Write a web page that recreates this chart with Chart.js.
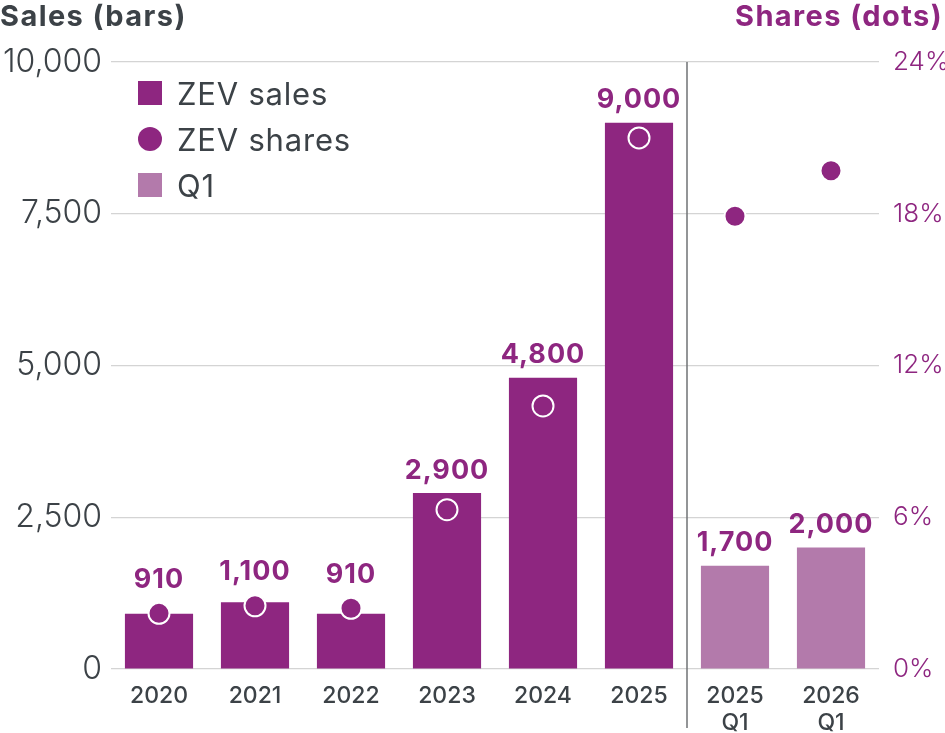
<!DOCTYPE html>
<html>
<head>
<meta charset="utf-8">
<script src="https://cdn.jsdelivr.net/npm/chart.js@4"></script>
<style>
  html, body { margin: 0; padding: 0; background: #fff; }
  #wrap { position: relative; width: 945px; height: 733px; font-family: "Inter", sans-serif; }
  .title { position: absolute; top: -1px; font-size: 29px; font-weight: 700; line-height: 34px; letter-spacing: 1.4px; }
  #t-left { left: 0; color: #3c4247; }
  #t-right { right: 2px; color: #8e2680; }
  #legend { position: absolute; left: 138px; top: 70px; }
  .item { display: flex; align-items: center; height: 46px; font-size: 31px; color: #3c4247; font-weight: 400; letter-spacing: 0.8px; }
  .mark { width: 24px; height: 24px; margin-right: 15px; }
</style>
</head>
<body>
<div id="wrap">
  <canvas id="chart" width="945" height="733"></canvas>
  <div class="title" id="t-left">Sales (bars)</div>
  <div class="title" id="t-right">Shares (dots)</div>
  <div id="legend"></div>
</div>
<script>
// ---- data ----
const labels = ["2020", "2021", "2022", "2023", "2024", "2025", ["2025", "Q1"], ["2026", "Q1"]];
const sales = [910, 1100, 910, 2900, 4800, 9000, 1700, 2000];
const shares = [2.2, 2.5, 2.4, 6.3, 10.4, 21.0, 17.9, 19.7];
const isQ1 = [false, false, false, false, false, false, true, true];
const salesTicks = [0, 2500, 5000, 7500, 10000];
const shareTicks = [0, 6, 12, 18, 24];

const PURPLE = "#8e2680";
const LIGHT = "#b37aab";
const GREY_TEXT = "#3c4247";
const FONT = "Inter, sans-serif";

// html legend
const legendItems = [
  { label: "ZEV sales", color: PURPLE, round: false },
  { label: "ZEV shares", color: PURPLE, round: true },
  { label: "Q1", color: LIGHT, round: false },
];
document.getElementById("legend").innerHTML = legendItems
  .map(
    (it) => `
    <div class="item">
      <span class="mark" style="background:${it.color};border-radius:${it.round ? "50%" : "0"}"></span>${it.label}
    </div>`
  )
  .join("");

// value labels above bars (lifted over a dot when the dot sits at the bar top)
const valueLabels = {
  id: "valueLabels",
  afterDatasetsDraw(chart) {
    const ctx = chart.ctx;
    const bars = chart.getDatasetMeta(1).data;
    const dots = chart.getDatasetMeta(0).data;
    ctx.save();
    ctx.font = `700 27px ${FONT}`;
    ctx.letterSpacing = "1px";
    ctx.fillStyle = PURPLE;
    ctx.textAlign = "center";
    ctx.textBaseline = "bottom";
    bars.forEach((bar, i) => {
      const nearTop = Math.abs(dots[i].y - bar.y) < 20;
      const top = nearTop ? Math.min(bar.y, dots[i].y - 11) : bar.y;
      ctx.fillText(sales[i].toLocaleString("en-US"), bar.x, top - 9);
    });
    ctx.restore();
  },
};

// vertical divider between annual and Q1 data
const divider = {
  id: "divider",
  afterDraw(chart) {
    const x = chart.scales.x;
    const px = (x.getPixelForValue(5) + x.getPixelForValue(6)) / 2;
    const ctx = chart.ctx;
    ctx.save();
    ctx.strokeStyle = "#6f7275";
    ctx.lineWidth = 1.5;
    ctx.beginPath();
    ctx.moveTo(px, chart.chartArea.top);
    ctx.lineTo(px, 728);
    ctx.stroke();
    ctx.restore();
  },
};

new Chart(document.getElementById("chart"), {
  data: {
    labels,
    datasets: [
      {
        type: "line",
        label: "ZEV shares",
        data: shares,
        yAxisID: "y2",
        showLine: false,
        pointRadius: 10.5,
        pointHoverRadius: 10.5,
        pointBackgroundColor: PURPLE,
        pointBorderColor: "#ffffff",
        pointBorderWidth: 2,
        order: 0,
      },
      {
        type: "bar",
        label: "ZEV sales",
        data: sales,
        yAxisID: "y",
        backgroundColor: isQ1.map((q) => (q ? LIGHT : PURPLE)),
        barPercentage: 0.71,
        categoryPercentage: 1,
        order: 1,
      },
    ],
  },
  options: {
    responsive: false,
    devicePixelRatio: 1,
    animation: false,
    layout: { padding: { top: 62, left: 0, right: 0, bottom: 0 } },
    plugins: { legend: { display: false }, tooltip: { enabled: false } },
    scales: {
      x: {
        offset: true,
        grid: { display: false },
        border: { display: false },
        ticks: { color: GREY_TEXT, font: { family: FONT, size: 23, weight: "500" }, padding: 5 },
        afterFit: (s) => { s.height = 64; },
      },
      y: {
        position: "left",
        min: 0,
        max: 10000,
        afterBuildTicks: (s) => { s.ticks = salesTicks.map((v) => ({ value: v })); },
        grid: { color: "#d4d4d4", lineWidth: 1.2, drawTicks: false },
        border: { display: false },
        ticks: {
          color: GREY_TEXT,
          font: { family: FONT, size: 32, weight: "300" },
          padding: 9,
          callback: (v) => v.toLocaleString("en-US"),
        },
        afterFit: (s) => { s.width = 111; },
      },
      y2: {
        position: "right",
        min: 0,
        max: 24,
        afterBuildTicks: (s) => { s.ticks = shareTicks.map((v) => ({ value: v })); },
        grid: { display: false },
        border: { display: false },
        ticks: {
          color: PURPLE,
          font: { family: FONT, size: 26, weight: "300" },
          padding: 6,
          callback: (v) => v + "%",
        },
        afterFit: (s) => { s.width = 66; },
      },
    },
  },
  plugins: [valueLabels, divider],
});
</script>
</body>
</html>
